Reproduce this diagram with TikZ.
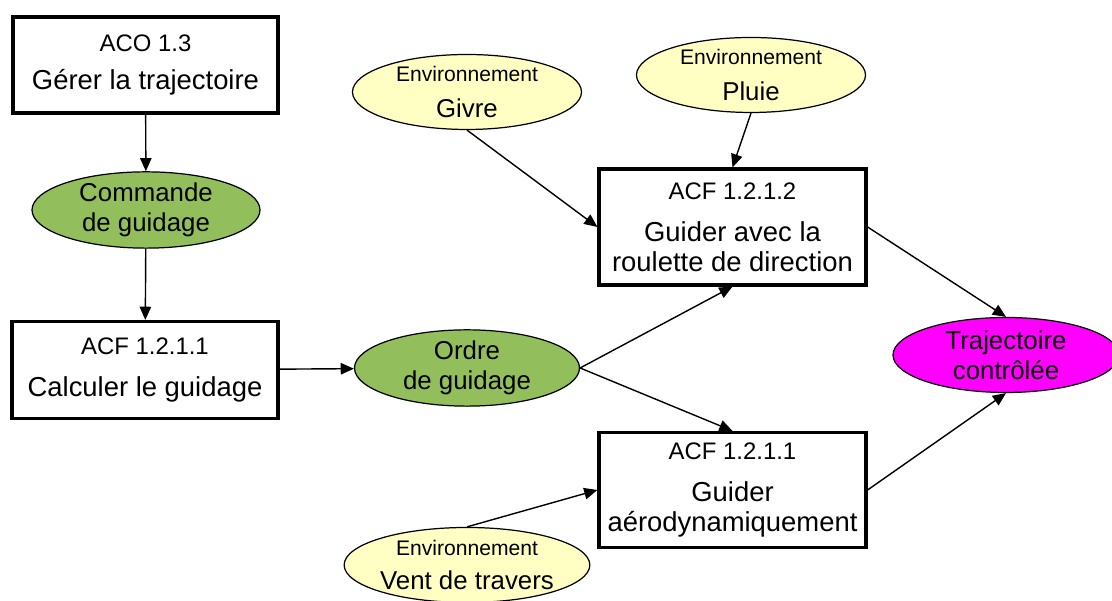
\documentclass[tikz,border=0pt]{standalone}
\usepackage{fontspec}
\setmainfont{Liberation Sans}
\usetikzlibrary{shapes.geometric,arrows.meta}
\definecolor{vertguid}{RGB}{146,190,92}
\definecolor{jauneenv}{RGB}{255,255,196}
\definecolor{rosetraj}{RGB}{255,0,255}
\newcommand{\idfont}{\fontsize{13.6}{17}\selectfont}
\newcommand{\titlefont}{\fontsize{15.6}{17}\selectfont}
\begin{document}
\begin{tikzpicture}[
    boite/.style={draw, line width=1.8pt, fill=white, align=center, inner sep=0pt,
                  font=\titlefont},
    flux/.style={ellipse, draw, line width=0.7pt, fill=vertguid, align=center,
                 inner sep=0pt, font=\fontsize{14.7}{17}\selectfont},
    envir/.style={ellipse, draw, line width=0.7pt, fill=jauneenv, align=center,
                  inner sep=0pt, minimum width=4.58cm, minimum height=1.50cm,
                  font=\fontsize{14.7}{21}\selectfont},
    fleche/.style={-{Triangle[length=7.5pt,width=6.5pt]}, line width=0.8pt}
  ]
  \useasboundingbox (0,0) rectangle (22.24,12.02);

  % Activite de conduite
  \node [boite, minimum width=5.30cm, minimum height=1.92cm] (aco) at (2.91,10.72)
    {{\idfont ACO 1.3}\\[5pt] Gérer la trajectoire};

  % Flux commande de guidage
  \node [flux, minimum width=4.56cm, minimum height=1.50cm] (commande) at (2.92,7.82)
    {Commande\\de guidage};

  % Fonction calcul
  \node [boite, minimum width=5.32cm, minimum height=1.94cm] (calcul) at (2.90,4.62)
    {{\idfont ACF 1.2.1.1}\\[7pt] Calculer le guidage};

  % Flux ordre de guidage
  \node [flux, minimum width=4.50cm, minimum height=1.52cm] (ordre) at (9.34,4.66)
    {Ordre\\de guidage};

  % Environnements
  \node [envir] (givre) at (9.34,10.18)
    {{\fontsize{12}{21}\selectfont Environnement}\\Givre};
  \node [envir] (pluie) at (15.02,10.52)
    {{\fontsize{12}{21}\selectfont Environnement}\\Pluie};
  \node [envir] (vent) at (9.34,0.72)
    {{\fontsize{12}{19}\selectfont Environnement}\\[-2pt]Vent de travers};

  % Fonctions de guidage
  \node [boite, minimum width=5.34cm, minimum height=2.32cm] (roulette) at (14.65,7.48)
    {{\idfont ACF 1.2.1.2}\\[7pt] Guider avec la\\roulette de direction};
  \node [boite, minimum width=5.34cm, minimum height=2.30cm] (aero) at (14.65,2.22)
    {{\idfont ACF 1.2.1.1}\\[7pt] Guider\\aérodynamiquement};

  % Resultat
  \node [flux, fill=rosetraj, minimum width=4.52cm, minimum height=1.50cm] (traj) at (20.12,4.92)
    {Trajectoire\\contrôlée};

  % Liens
  \draw [fleche] (aco) -- (commande);
  \draw [fleche] (commande) -- (calcul);
  \draw [fleche] (calcul) -- (ordre);
  \draw [fleche] (ordre.east) -- (roulette.south);
  \draw [fleche] (ordre.east) -- (aero.north);
  \draw [fleche] (givre.south) -- (roulette.west);
  \draw [fleche] (pluie.south) -- (roulette.north);
  \draw [fleche] (vent.north) -- (aero.west);
  \draw [fleche] (roulette.east) -- (traj.north);
  \draw [fleche] (aero.east) -- (traj.south);
\end{tikzpicture}
\end{document}
